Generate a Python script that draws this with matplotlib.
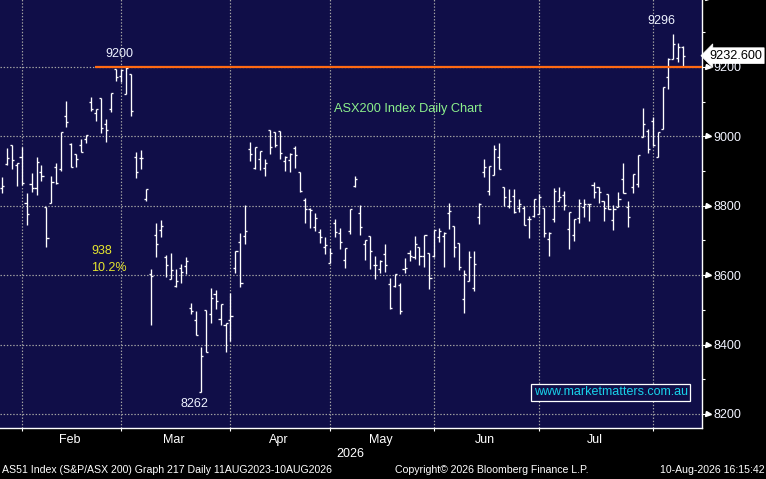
import matplotlib
matplotlib.use("Agg")
import matplotlib.pyplot as plt
from matplotlib.transforms import blended_transform_factory
import numpy as np

plt.rcParams['font.family'] = ['Liberation Sans', 'DejaVu Sans']

# ---------------- data (daily OHLC, ASX200) ----------------
opens = [8852, 8919, 8974, 8917, 8940, 8807, 8862, 8850, 8896, 8797,
         8807, 8911, 8905, 9058, 8978, 8948, 8974, 8993, 9099, 9068,
         9110, 9036, 9078, 9193, 9174, 9121, 9179, 8942, 8938, 8821,
         8603, 8715, 8730, 8651, 8588, 8568, 8621, 8627, 8504, 8470,
         8262, 8500, 8488, 8546, 8473, 8456, 8471, 8621, 8696, 8712,
         8963, 8910, 8934, 8908, 9018, 9012, 9015, 8928, 8932, 8966,
         8898, 8817, 8792, 8738, 8725, 8681, 8636, 8750, 8723, 8644,
         8727, 8857, 8778, 8689, 8713, 8628, 8617, 8660, 8574, 8569,
         8572, 8618, 8663, 8653, 8680, 8655, 8663, 8655, 8709, 8713,
         8778, 8742, 8692, 8530, 8584, 8562, 8767, 8896, 8844, 8888,
         8940, 8855, 8799, 8829, 8793, 8793, 8761, 8772, 8775, 8793,
         8703, 8762, 8815, 8831, 8732, 8716, 8764, 8796, 8804, 8859,
         8853, 8815, 8833, 8759, 8797, 8876, 8796, 8853, 8862, 8997,
         9015, 9045, 8942, 9020, 9172, 9224, 9227, 9257]
highs = [8884, 8967, 8974, 8924, 8968, 8836, 8894, 8940, 8917, 8797,
         8886, 8922, 9013, 9102, 8980, 8949, 8992, 9005, 9113, 9078,
         9110, 9049, 9126, 9193, 9194, 9200, 9179, 8954, 8960, 8847,
         8617, 8749, 8759, 8658, 8663, 8617, 8632, 8651, 8519, 8497,
         8392, 8500, 8563, 8557, 8517, 8462, 8550, 8669, 8721, 8801,
         8983, 8969, 8957, 8934, 9018, 9012, 9015, 8944, 8951, 8972,
         8898, 8822, 8794, 8778, 8734, 8710, 8677, 8762, 8735, 8678,
         8792, 8886, 8802, 8701, 8713, 8655, 8644, 8690, 8592, 8604,
         8577, 8649, 8673, 8713, 8680, 8715, 8663, 8730, 8735, 8725,
         8807, 8742, 8692, 8615, 8670, 8670, 8807, 8934, 8915, 8975,
         8980, 8855, 8847, 8847, 8821, 8799, 8772, 8821, 8834, 8793,
         8725, 8850, 8853, 8843, 8782, 8763, 8819, 8821, 8804, 8870,
         8853, 8815, 8833, 8801, 8840, 8922, 8814, 8892, 8946, 9081,
         9020, 9057, 9014, 9141, 9225, 9296, 9268, 9261]
lows = [8838, 8917, 8907, 8858, 8859, 8746, 8839, 8832, 8872, 8682,
        8807, 8864, 8900, 9028, 8911, 8913, 8954, 8980, 9074, 9045,
        9009, 8985, 9071, 9161, 9156, 9121, 9060, 8879, 8905, 8813,
        8457, 8653, 8711, 8596, 8588, 8566, 8577, 8602, 8487, 8427,
        8262, 8378, 8463, 8503, 8456, 8380, 8410, 8607, 8567, 8689,
        8930, 8905, 8903, 8887, 8950, 8970, 8936, 8901, 8898, 8910,
        8839, 8749, 8737, 8728, 8694, 8660, 8634, 8711, 8676, 8622,
        8718, 8853, 8716, 8644, 8619, 8590, 8605, 8610, 8502, 8565,
        8487, 8605, 8642, 8646, 8629, 8625, 8561, 8651, 8697, 8624,
        8732, 8653, 8615, 8492, 8584, 8555, 8747, 8884, 8831, 8888,
        8907, 8799, 8793, 8778, 8783, 8746, 8708, 8767, 8775, 8711,
        8656, 8752, 8815, 8787, 8676, 8699, 8749, 8769, 8757, 8823,
        8807, 8757, 8790, 8730, 8797, 8836, 8740, 8838, 8855, 8997,
        8951, 8973, 8940, 9020, 9136, 9224, 9213, 9203]
closes = [8857, 8938, 8932, 8924, 8865, 8775, 8850, 8926, 8885, 8706,
          8868, 8865, 9013, 9041, 8913, 8934, 8955, 9003, 9080, 9078,
          9024, 9017, 9126, 9170, 9191, 9196, 9073, 8896, 8938, 8847,
          8598, 8689, 8741, 8628, 8615, 8582, 8610, 8640, 8496, 8427,
          8366, 8378, 8533, 8525, 8517, 8462, 8482, 8669, 8577, 8727,
          8949, 8969, 8957, 8922, 8968, 8974, 8951, 8942, 8949, 8946,
          8842, 8790, 8789, 8764, 8709, 8687, 8663, 8725, 8696, 8678,
          8791, 8876, 8740, 8700, 8669, 8628, 8640, 8628, 8505, 8602,
          8496, 8620, 8655, 8689, 8655, 8715, 8591, 8730, 8728, 8721,
          8785, 8682, 8623, 8602, 8651, 8631, 8805, 8911, 8915, 8963,
          8907, 8824, 8813, 8783, 8805, 8746, 8761, 8821, 8826, 8721,
          8721, 8843, 8826, 8801, 8782, 8762, 8807, 8805, 8804, 8839,
          8839, 8793, 8790, 8790, 8819, 8836, 8769, 8892, 8946, 9035,
          8964, 8975, 9014, 9141, 9222, 9265, 9257, 9232.6]

bars_per_month = [4, 20, 22, 20, 21, 21, 23, 7]   # Jan(part) .. Aug(part)
month_labels = ['Feb', 'Mar', 'Apr', 'May', 'Jun', 'Jul']
year_label = '2026'
y_major = [8200, 8400, 8600, 8800, 9000, 9200, 9400]
y_labels = ['8200', '8400', '8600', '8800', '9000', '9200', '']
y_minor = [8300, 8500, 8700, 8900, 9100, 9300]
level = 9200
last_price = 9232.6
peak_high = 9200
trough_low = 8262
recent_high = 9296
drop_pts = 938
drop_pct = '10.2%'

# ---------------- figure ----------------
W, H = 766, 479
fig = plt.figure(figsize=(W / 100, H / 100), dpi=100, facecolor='black')
ax_right_px, ax_bottom_px = 702, 428
ax = fig.add_axes([0, (H - ax_bottom_px) / H, ax_right_px / W, (ax_bottom_px + 2.4) / H])
navy = '#100e48'
ax.set_facecolor(navy)

n = len(closes)
x = np.arange(n)
tick_w = 0.42
ax.vlines(x, lows, highs, color='white', lw=0.95, zorder=3)
ax.hlines(opens, x - tick_w, x, color='white', lw=0.95, zorder=3)
ax.hlines(closes, x, x + tick_w, color='white', lw=0.95, zorder=3)

ax.set_xlim(-0.34, 140.8)
ax.set_ylim(8159.6, 9400.0)

# month boundaries
starts = np.cumsum([0] + bars_per_month[:-1])
bounds = list(starts[1:])  # first bar of Feb..Aug
ax.set_xticks(bounds)
ax.set_xticklabels([])
centers = [(bounds[k] + bounds[k + 1]) / 2 - 0.3 for k in range(len(month_labels))]
ax.set_xticks(centers, minor=True)
ax.set_xticklabels(month_labels, minor=True)
ax.tick_params(axis='x', which='major', direction='out', length=2.5, width=0.8,
               color='white')
ax.tick_params(axis='x', which='minor', length=0, pad=4, labelsize=9,
               labelcolor='white')

ax.yaxis.tick_right()
ax.set_yticks(y_major)
ax.set_yticks(y_minor, minor=True)
ax.set_yticklabels(y_labels)
ax.tick_params(axis='y', which='major', direction='out', length=4, width=0.8,
               color='white', labelsize=9, labelcolor='#f2f4ff', pad=4.5)
ax.tick_params(axis='y', which='minor', direction='out', length=2.5, width=0.8,
               color='white')
trans_y = blended_transform_factory(ax.transAxes, ax.transData)
ax.plot([1.0085] * len(y_major), y_major, ls='none', marker='>', ms=3.6,
        color='white', transform=trans_y, clip_on=False, zorder=5)

ax.grid(True, which='major', color='#a3a3a3', lw=0.85, linestyle=(0, (1.2, 1.5)))
ax.set_axisbelow(True)

for s in ['top', 'left']:
    ax.spines[s].set_visible(False)
ax.spines['bottom'].set_color('white')
ax.spines['right'].set_color('white')
ax.spines['bottom'].set_linewidth(1.0)
ax.spines['right'].set_linewidth(1.0)

# horizontal level line
ax.hlines(level, 18.75, 140.8, color='#ff6a13', lw=1.6, zorder=4)

# annotations
lab_c = '#eef2ff'
ax.text(23.6, 9237, str(peak_high), color=lab_c, fontsize=9, ha='center', va='center')
ax.text(38.7, 8229, str(trough_low), color=lab_c, fontsize=9, ha='center', va='center')
ax.text(132.7, 9334, str(recent_high), color=lab_c, fontsize=9, ha='center', va='center')
ax.text(17.95, 8669, str(drop_pts), color='#e6e62e', fontsize=9, ha='left', va='center')
ax.text(17.95, 8622, drop_pct, color='#e6e62e', fontsize=9, ha='left', va='center')
ax.text(81.7, 9079, 'ASX200 Index Daily Chart', color='#8cf08c', fontsize=9.2,
        ha='center', va='center')
ax.text(122.5, 8262, 'www.marketmatters.com.au', color='#18d2ea', fontsize=9,
        ha='center', va='center', zorder=6,
        bbox=dict(boxstyle='square,pad=0.2', fc=navy, ec='white', lw=0.9))

# last price tag
ax.text(1.0105, last_price, f'{last_price:.3f}', transform=trans_y, color='black',
        fontsize=9.1, ha='left', va='center', clip_on=False, zorder=10,
        bbox=dict(boxstyle='larrow,pad=0.15', fc='white', ec='white', lw=0.5))

# bottom texts
fig.text(350 / W, 1 - 454 / H, year_label, color='white', fontsize=9, ha='center', va='center')
fig.text(2 / W, 1 - 470 / H, 'AS51 Index (S&P/ASX 200) Graph 217 Daily 11AUG2023-10AUG2026',
         color='white', fontsize=7.6, ha='left', va='center')
fig.text(395 / W, 1 - 470 / H, 'Copyright\u00a9 2026 Bloomberg Finance L.P.',
         color='white', fontsize=7.6, ha='left', va='center')
fig.text(765 / W, 1 - 470 / H, '10-Aug-2026 16:15:42', color='white', fontsize=7.6,
         ha='right', va='center')

fig.savefig('out.png', dpi=100, facecolor='black')
